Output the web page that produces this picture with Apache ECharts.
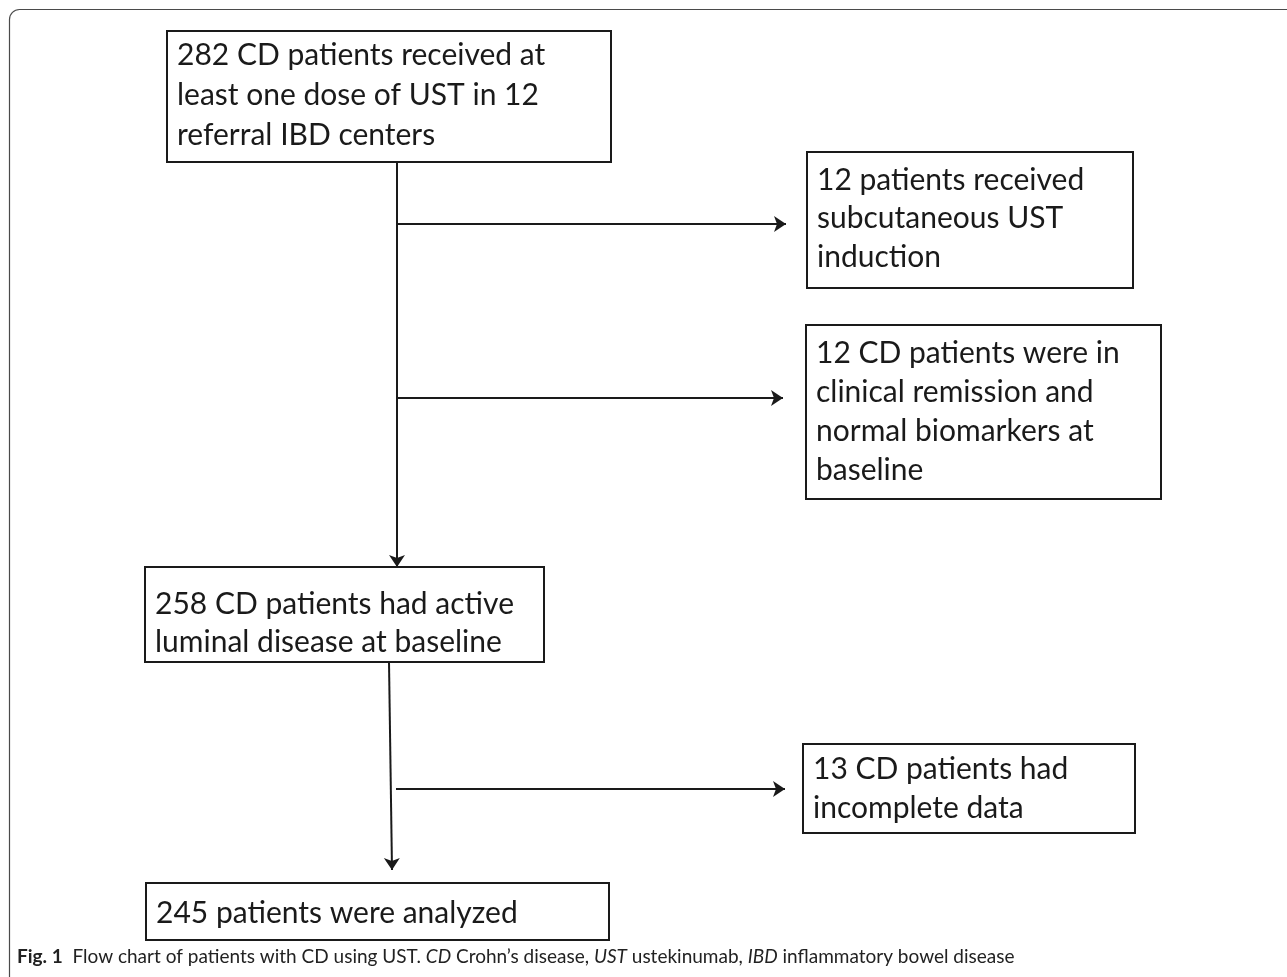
<!DOCTYPE html>
<html>
<head>
<meta charset="utf-8">
<script src="https://cdn.jsdelivr.net/npm/echarts@6/dist/echarts.min.js"></script>
<style>
  html, body { margin: 0; padding: 0; background: #fff; }
  #flow { width: 1287px; height: 977px; }
</style>
</head>
<body>
<div id="flow"></div>
<script>
// box texts (the "values" of the flow chart)
var boxTexts = [
  '282 CD patients received at\nleast one dose of UST in 12\nreferral IBD centers',
  '12 patients received\nsubcutaneous UST\ninduction',
  '12 CD patients were in\nclinical remission and\nnormal biomarkers at\nbaseline',
  '258 CD patients had active\nluminal disease at baseline',
  '13 CD patients had\nincomplete data',
  '245 patients were analyzed'
]
var patientCounts = [282, 12, 12, 258, 13, 245]

// layout of each box: x0, y0, x1, y1, first line centre, line height
var boxLayout = [
  [167, 31, 611, 162, 55, 40],
  [807, 152, 1133, 288, 180, 38.5],
  [806, 325, 1161, 499, 353, 39],
  [145, 567, 544, 662, 604, 38],
  [803, 744, 1135, 833, 769, 39],
  [146, 883, 609, 940, 913, 38]
]

// arrows: from -> to
var arrowLinks = [
  [[397, 162], [397, 567]],
  [[398, 224], [786, 224]],
  [[398, 398], [783, 398]],
  [[389, 662], [392, 870]],
  [[396, 789], [785, 789]]
]

var captionText = '{b|Fig. 1}  Flow chart of patients with CD using UST. {i|CD} Crohn\u2019s disease, {i|UST} ustekinumab, {i|IBD} inflammatory bowel disease'

var myChart = echarts.init(document.getElementById('flow'))

var boxData = boxLayout.map(function (b, i) {
  return [b[0], b[1], b[2], b[3], b[4], b[5], i]
})

var option = {
  animation: false,
  backgroundColor: '#fff',
  grid: { left: 0, right: 0, top: 0, bottom: 0 },
  xAxis: { type: 'value', min: 0, max: 1287, show: false },
  yAxis: { type: 'value', min: 0, max: 977, inverse: true, show: false },
  graphic: [
    {
      type: 'rect',
      shape: { x: 9.5, y: 9.5, width: 1400, height: 1100, r: [10, 0, 0, 0] },
      style: { fill: 'none', stroke: '#4a4a4a', lineWidth: 1.2 },
      silent: true
    },
    {
      type: 'text',
      left: 17,
      top: 947,
      style: {
        text: captionText,
        fontFamily: 'Lato',
        fontSize: 19,
        fill: '#222',
        rich: {
          b: { fontWeight: 'bold', fontFamily: 'Lato', fontSize: 19, fill: '#222' },
          i: { fontStyle: 'italic', fontFamily: 'Lato', fontSize: 19, fill: '#222' }
        }
      }
    }
  ],
  series: [
    {
      type: 'custom',
      coordinateSystem: 'cartesian2d',
      data: boxData,
      renderItem: function (params, api) {
        var p0 = api.coord([api.value(0), api.value(1)])
        var p1 = api.coord([api.value(2), api.value(3)])
        var lh = api.value(5)
        var first = api.coord([0, api.value(4)])[1]
        var idx = api.value(6)
        return {
          type: 'group',
          children: [
            {
              type: 'rect',
              shape: { x: p0[0], y: p0[1], width: p1[0] - p0[0], height: p1[1] - p0[1] },
              style: { fill: '#fff', stroke: '#1a1a1a', lineWidth: 2 }
            },
            {
              type: 'text',
              x: p0[0] + 10,
              y: first - lh / 2,
              style: {
                text: boxTexts[idx],
                fontFamily: 'Lato',
                fontSize: 30,
                lineHeight: lh,
                fill: '#1a1a1a',
                verticalAlign: 'top',
                align: 'left'
              }
            }
          ]
        }
      },
      z: 2
    },
    {
      type: 'lines',
      coordinateSystem: 'cartesian2d',
      polyline: false,
      symbol: ['none', 'arrow'],
      symbolSize: 12,
      lineStyle: { color: '#1a1a1a', width: 2, opacity: 1 },
      data: arrowLinks.map(function (a) { return { coords: a } }),
      z: 3
    }
  ]
}

myChart.setOption(option)
</script>
</body>
</html>
